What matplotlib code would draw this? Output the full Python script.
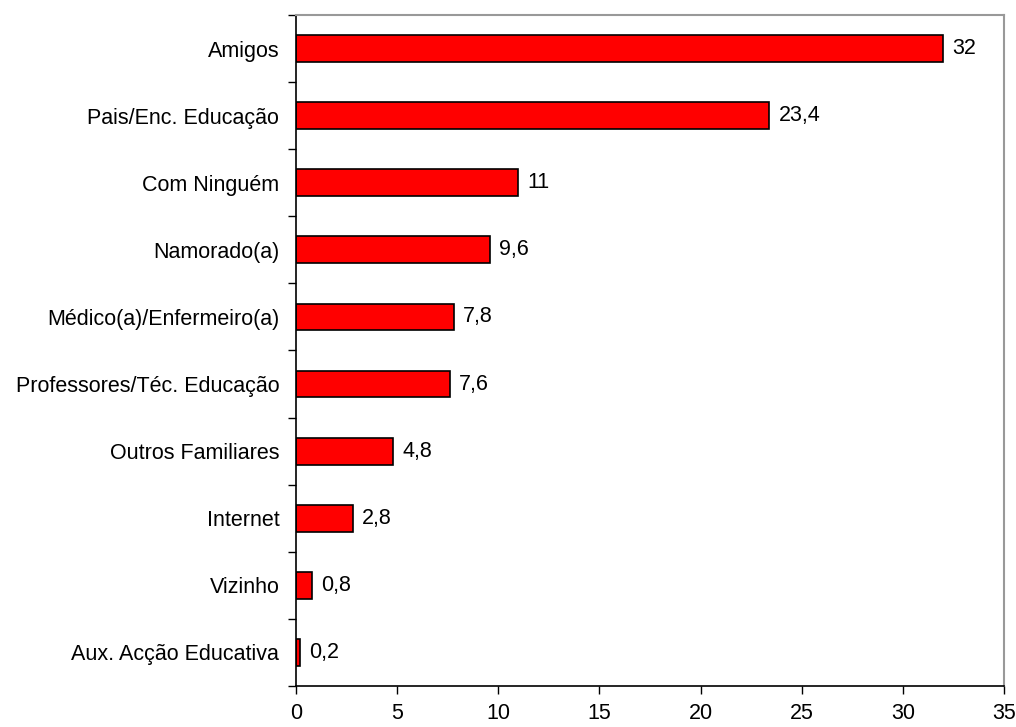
import matplotlib
matplotlib.use("Agg")
import matplotlib.pyplot as plt
import numpy as np

plt.rcParams['font.family'] = ['Liberation Sans', 'DejaVu Sans']

# categories listed bottom to top
categorias = ['Aux. Acção Educativa', 'Vizinho', 'Internet', 'Outros Familiares',
              'Professores/Téc. Educação', 'Médico(a)/Enfermeiro(a)', 'Namorado(a)',
              'Com Ninguém', 'Pais/Enc. Educação', 'Amigos']
valores = [0.2, 0.8, 2.8, 4.8, 7.6, 7.8, 9.6, 11, 23.4, 32]
rotulos = ['0,2', '0,8', '2,8', '4,8', '7,6', '7,8', '9,6', '11', '23,4', '32']
xticks = [0, 5, 10, 15, 20, 25, 30, 35]

fs = 15.5

fig = plt.figure(figsize=(10.16, 7.27), dpi=100)
ax = fig.add_axes([0.2913, 0.0564, 0.6969, 0.923])

y = np.arange(len(categorias))
ax.barh(y, valores, height=0.4, color='#ff0000', edgecolor='black', linewidth=1.2)

for yi, v, r in zip(y, valores, rotulos):
    ax.text(v + 0.45, yi, r, va='center', ha='left', fontsize=fs)

ax.set_xlim(0, 35)
ax.set_ylim(-0.5, len(categorias) - 0.5)
ax.set_xticks(xticks)
ax.set_xticklabels([str(t) for t in xticks], fontsize=fs)
ax.set_yticks(y)
ax.set_yticklabels(categorias, fontsize=fs)
ax.set_yticks(np.arange(-0.5, len(categorias)), minor=True)
ax.tick_params(axis='y', which='major', length=0, pad=12)
ax.tick_params(axis='y', which='minor', length=6, width=1, direction='out')
ax.tick_params(axis='x', length=6, width=1, direction='out', pad=6)

for s in ['left', 'bottom']:
    ax.spines[s].set_color('black')
    ax.spines[s].set_linewidth(1.2)
for s in ['top', 'right']:
    ax.spines[s].set_color('#999999')
    ax.spines[s].set_linewidth(1.5)

fig.savefig('out.png', dpi=100)
